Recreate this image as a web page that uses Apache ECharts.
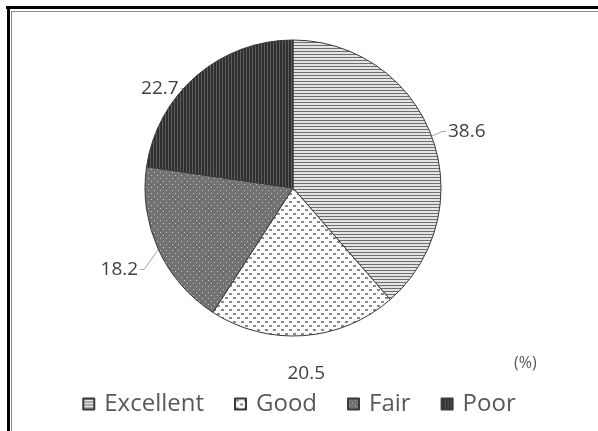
<!DOCTYPE html>
<html>
<head>
<meta charset="utf-8">
<script src="https://cdn.jsdelivr.net/npm/echarts@6/dist/echarts.min.js"></script>
<style>
html,body{margin:0;padding:0;background:#fff;}
#chart{width:598px;height:431px;}
</style>
</head>
<body>
<div id="chart"></div>
<script>
var categories = ['Excellent', 'Good', 'Fair', 'Poor'];
var values = [38.6, 20.5, 18.2, 22.7];
var unitLabel = '(%)';

function makeTile(w, h, bg, fg, rects) {
  var c = document.createElement('canvas');
  c.width = w; c.height = h;
  var g = c.getContext('2d');
  g.fillStyle = bg; g.fillRect(0, 0, w, h);
  g.fillStyle = fg;
  rects.forEach(function (r) { g.fillRect(r[0], r[1], r[2], r[3]); });
  return c;
}
var patterns = [
  makeTile(4, 3, '#e4e4e4', '#6e6e6e', [[0, 0, 4, 1]]),
  makeTile(8, 8, '#fbfbfb', '#8a8a8a', [[1, 1, 3, 2], [5, 5, 3, 2]]),
  makeTile(6, 6, '#727272', '#c4c4c4', [[1, 1, 1, 1], [4, 4, 1, 1]]),
  makeTile(3, 4, '#2f2f2f', '#5e5e5e', [[0, 0, 1, 4]])
];

// fine label offsets (dx, dy) to mimic the original label placement
var labelShift = [[-4, -1], [-28, 28], [0, 16], [0, 20]];

var data = categories.map(function (name, i) {
  var item = {
    name: name,
    value: values[i],
    itemStyle: { color: { image: patterns[i], repeat: 'repeat' } }
  };
  if (i === 1) item.labelLine = { show: false };
  return item;
});

var chart = echarts.init(document.getElementById('chart'));
chart.setOption({
  animation: false,
  backgroundColor: '#fff',
  title: {
    text: unitLabel,
    left: 509, top: 350,
    textStyle: { fontSize: 16, fontWeight: 'normal', color: '#595959', fontFamily: 'Open Sans' }
  },
  graphic: [
    { type: 'rect', shape: { x: 6, y: 6, width: 600, height: 3 }, style: { fill: '#000' } },
    { type: 'rect', shape: { x: 7, y: 6, width: 3, height: 430 }, style: { fill: '#000' } },
    { type: 'rect', shape: { x: 11, y: 11, width: 600, height: 1 }, style: { fill: '#8a8a8a' } },
    { type: 'rect', shape: { x: 11, y: 11, width: 1, height: 430 }, style: { fill: '#8a8a8a' } }
  ],
  legend: {
    data: categories,
    bottom: 10,
    left: 'center',
    icon: 'rect',
    itemWidth: 11,
    itemHeight: 11,
    itemGap: 30,
    textStyle: { fontSize: 24, color: '#595959', fontFamily: 'Open Sans', padding: [0, 0, 0, 5] }
  },
  series: [{
    type: 'pie',
    center: [293, 188],
    radius: 148,
    startAngle: 90,
    clockwise: true,
    data: data,
    itemStyle: { borderColor: '#3a3a3a', borderWidth: 1 },
    label: {
      show: true,
      position: 'outside',
      formatter: function (p) { return p.value.toFixed(1); },
      fontSize: 19,
      color: '#404040',
      fontFamily: 'Open Sans'
    },
    labelLine: {
      show: true,
      length: 10,
      length2: 6,
      lineStyle: { color: '#a6a6a6', width: 1 }
    },
    labelLayout: function (p) {
      var i = p.dataIndex;
      var s = labelShift[i];
      var r = p.labelRect;
      var nx = r.x + s[0], ny = r.y + s[1];
      var start = p.labelLinePoints ? p.labelLinePoints[0] : null;
      var out = { dx: s[0], dy: s[1] };
      if (start && i !== 1) {
        var end;
        var cy = ny + r.height / 2;
        if (nx + r.width < start[0]) {
          end = [nx + r.width + 2, cy];
          out.labelLinePoints = [start, [end[0] + 4, end[1]], end];
        } else {
          end = [nx - 2, cy];
          out.labelLinePoints = [start, [end[0] - 4, end[1]], end];
        }
      }
      return out;
    },
    emphasis: { disabled: true }
  }]
});
</script>
</body>
</html>
